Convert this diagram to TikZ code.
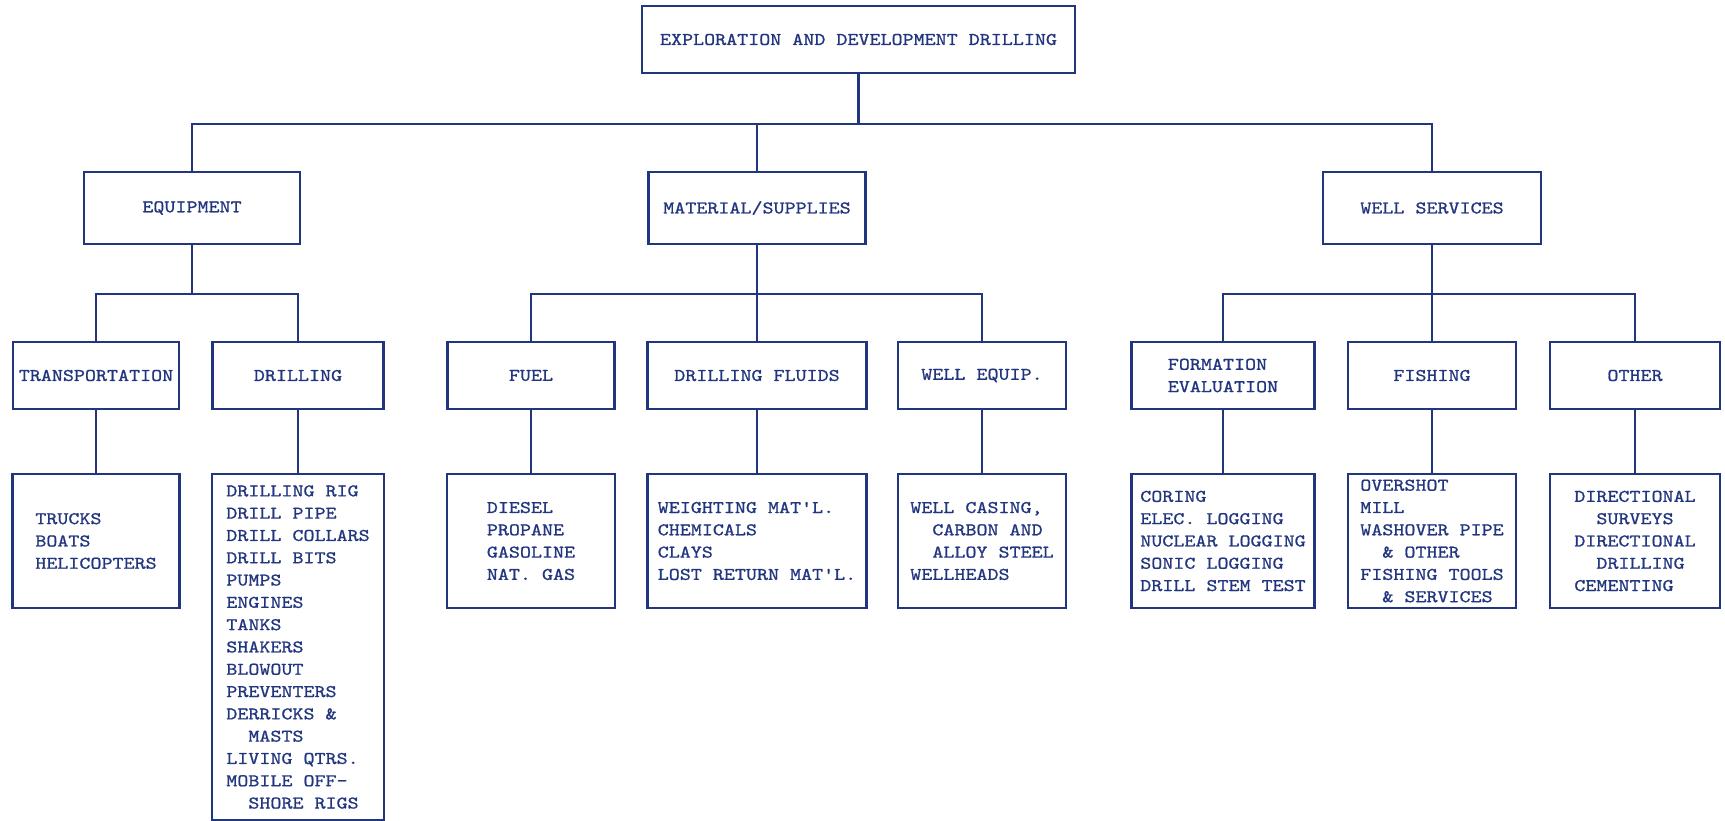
\documentclass[tikz,border=0pt]{standalone}
\usepackage{fontspec}
\newfontfamily\typewriter[FakeStretch=1.18, FakeBold=1.0]{lmmono10-regular.otf}
\definecolor{ink}{RGB}{34,54,128}
\newcommand\chartfont{\typewriter\fontsize{17.8}{22.3}\selectfont}
\newcommand\ind{\phantom{XX}}
\tikzset{
  box/.style={draw=ink, line width=2.8pt, inner sep=0pt, align=center,
              text=ink, font=\chartfont},
  listbox/.style={box, align=left},
  link/.style={draw=ink, line width=2.2pt},
}
\begin{document}
\begin{tikzpicture}[x=1pt, y=-1pt]
\useasboundingbox (0,0) rectangle (1725,821);

% top level
\node[box, minimum width=433, minimum height=67] (top) at (858.5,39.5)
  {EXPLORATION AND DEVELOPMENT DRILLING};

% second level
\node[box, minimum width=216, minimum height=72] (equip) at (192,208) {EQUIPMENT};
\node[box, minimum width=217, minimum height=72] (mat) at (757,208) {MATERIAL/SUPPLIES};
\node[box, minimum width=218, minimum height=72] (ws) at (1432,208) {WELL SERVICES};

% third level
\node[box, minimum width=166, minimum height=67] (trans)  at (96,375.5)   {TRANSPORTATION};
\node[box, minimum width=171, minimum height=67] (drill)  at (298,375.5)  {DRILLING};
\node[box, minimum width=167, minimum height=67] (fuel)   at (531,375.5)  {FUEL};
\node[box, minimum width=219, minimum height=67] (fluids) at (757,375.5)  {DRILLING FLUIDS};
\node[box, minimum width=168, minimum height=67] (wequip) at (982,375.5)  {WELL EQUIP.};
\node[listbox, minimum width=183, minimum height=67] (form) at (1223,375.5)
  {FORMATION\\EVALUATION};
\node[box, minimum width=168, minimum height=67] (fish)   at (1432,375.5) {FISHING};
\node[box, minimum width=170, minimum height=67] (other)  at (1635,375.5) {OTHER};

% fourth level
\node[listbox, minimum width=167, minimum height=134] (trucks) at (96,541)
  {TRUCKS\\BOATS\\HELICOPTERS};
\node[listbox, minimum width=172, minimum height=346] (rig) at (298,647)
  {DRILLING RIG\\DRILL PIPE\\DRILL COLLARS\\DRILL BITS\\PUMPS\\ENGINES\\TANKS\\
   SHAKERS\\BLOWOUT\\PREVENTERS\\DERRICKS \&\\\ind MASTS\\LIVING QTRS.\\
   MOBILE OFF-\\\ind SHORE RIGS};
\node[listbox, minimum width=168, minimum height=134] (diesel) at (531,541)
  {DIESEL\\PROPANE\\GASOLINE\\NAT. GAS};
\node[listbox, minimum width=219, minimum height=134] (weight) at (757,541)
  {WEIGHTING MAT'L.\\CHEMICALS\\CLAYS\\LOST RETURN MAT'L.};
\node[listbox, minimum width=168, minimum height=134] (casing) at (982,541)
  {WELL CASING,\\\ind CARBON AND\\\ind ALLOY STEEL\\WELLHEADS};
\node[listbox, minimum width=183, minimum height=134] (coring) at (1223,541)
  {CORING\\ELEC. LOGGING\\NUCLEAR LOGGING\\SONIC LOGGING\\DRILL STEM TEST};
\node[listbox, minimum width=168, minimum height=134] (overshot) at (1432,541)
  {OVERSHOT\\MILL\\WASHOVER PIPE\\\ind\& OTHER\\FISHING TOOLS\\\ind\& SERVICES};
\node[listbox, minimum width=170, minimum height=134] (direct) at (1635,541)
  {DIRECTIONAL\\\ind SURVEYS\\DIRECTIONAL\\\ind DRILLING\\CEMENTING};

% bus lines
\coordinate (bus1) at (0,124);
\coordinate (bus2) at (0,294);

\draw[link] (top.south) -- (top.south |- bus1);
\draw[link] (equip.north) |- (ws.north |- bus1) -- (ws.north);
\draw[link] (mat.north) -- (mat.north |- bus1);

\draw[link] (trans.north) |- (drill.north |- bus2) -- (drill.north);
\draw[link] (equip.south) -- (equip.south |- bus2);
\draw[link] (fuel.north) |- (wequip.north |- bus2) -- (wequip.north);
\draw[link] (mat.south) -- (fluids.north);
\draw[link] (form.north) |- (other.north |- bus2) -- (other.north);
\draw[link] (ws.south) -- (fish.north);

\draw[link] (trans.south) -- (trucks.north);
\draw[link] (drill.south) -- (rig.north);
\draw[link] (fuel.south) -- (diesel.north);
\draw[link] (fluids.south) -- (weight.north);
\draw[link] (wequip.south) -- (casing.north);
\draw[link] (form.south) -- (coring.north);
\draw[link] (fish.south) -- (overshot.north);
\draw[link] (other.south) -- (direct.north);
\end{tikzpicture}
\end{document}
